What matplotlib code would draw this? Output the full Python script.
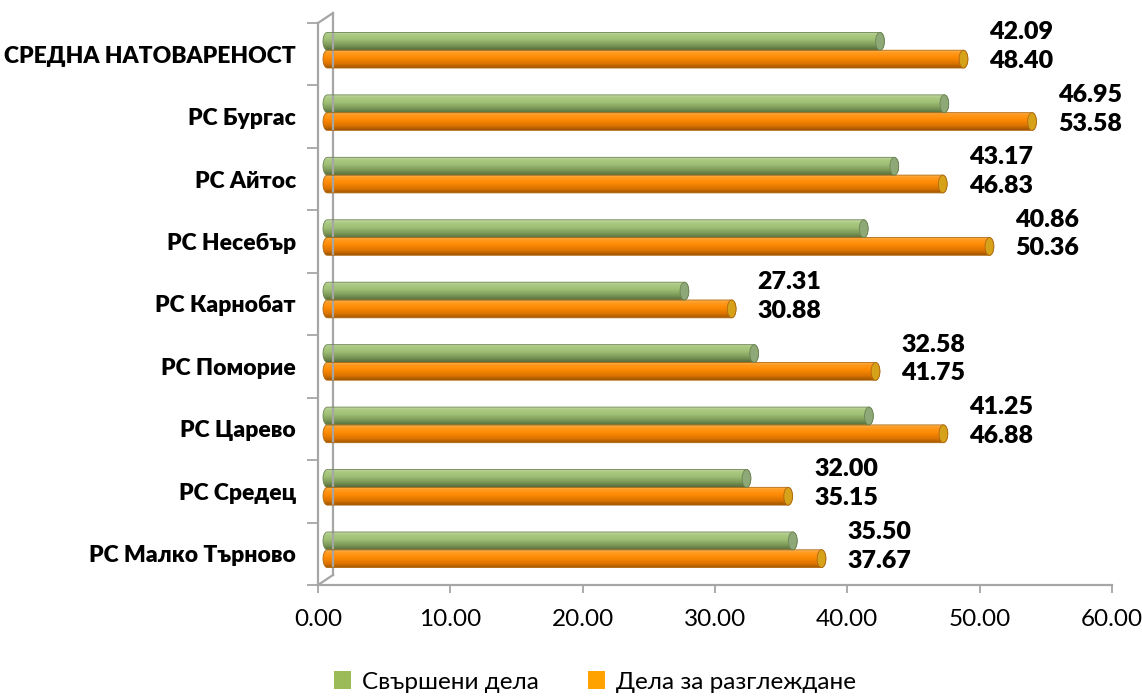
import numpy as np
import matplotlib
matplotlib.use('Agg')
import matplotlib.pyplot as plt
import matplotlib.transforms as mtransforms
from matplotlib.colors import LinearSegmentedColormap
from matplotlib.patches import Polygon, Ellipse, Patch

plt.rcParams['font.family'] = ['Lato', 'Open Sans', 'DejaVu Sans']

categories = ['СРЕДНА НАТОВАРЕНОСТ', 'РС Бургас', 'РС Айтос', 'РС Несебър', 'РС Карнобат',
              'РС Поморие', 'РС Царево', 'РС Средец', 'РС Малко Търново']
done = [42.09, 46.95, 43.17, 40.86, 27.31, 32.58, 41.25, 32.00, 35.50]
pending = [48.40, 53.58, 46.83, 50.36, 30.88, 41.75, 46.88, 35.15, 37.67]
series_names = ['Свършени дела', 'Дела за разглеждане']
xticks = [0, 10, 20, 30, 40, 50, 60]

green_cm = LinearSegmentedColormap.from_list('g', [(0, '#566b3c'), (0.25, '#7a9656'), (0.6, '#a0c076'),
                                                   (0.85, '#abca82'), (1, '#c4d9a8')])
orange_cm = LinearSegmentedColormap.from_list('o', [(0, '#9c5400'), (0.25, '#dc7400'), (0.6, '#ff8c05'),
                                                    (0.85, '#ff9a20'), (1, '#ffb250')])

fig = plt.figure(figsize=(11.42, 6.96), dpi=100)
ax = fig.add_axes([318 / 1142, 1 - 585 / 696, 794 / 1142, 562 / 696])
n = len(categories)
ax.set_xlim(0, 60)
ax.set_ylim(-0.5, n - 0.5)

# 3d depth shift of bars
bar_tr = ax.transData + mtransforms.ScaledTranslation(5 / 100, 4 / 100, fig.dpi_scale_trans)
grad = np.linspace(0, 1, 256).reshape(-1, 1)
h = 0.285
rx = 0.33


def cylinder(x1, yc, cmap, capcol, edgecol):
    t = np.linspace(np.pi / 2, 3 * np.pi / 2, 30)
    left = np.column_stack([rx + rx * np.cos(t), yc + h / 2 * np.sin(t)])
    t2 = np.linspace(-np.pi / 2, np.pi / 2, 30)
    right = np.column_stack([x1 + rx * np.cos(t2), yc + h / 2 * np.sin(t2)])
    poly = Polygon(np.vstack([left, right]), closed=True, transform=bar_tr,
                   facecolor='none', edgecolor=edgecol, lw=0.6, zorder=3)
    ax.add_patch(poly)
    im = ax.imshow(grad, extent=(0, x1 + rx, yc - h / 2, yc + h / 2), origin='lower',
                   cmap=cmap, aspect='auto', transform=bar_tr, zorder=2, interpolation='bilinear')
    im.set_clip_path(poly)
    ax.add_patch(Ellipse((x1, yc), 2 * rx, h, transform=bar_tr, facecolor=capcol,
                         edgecolor=edgecol, lw=0.6, zorder=4))


for i in range(n):
    y = n - 1 - i
    yg = y + h / 2
    yo = y - h / 2
    cylinder(done[i], yg, green_cm, '#8fa878', '#6d8453')
    cylinder(pending[i], yo, orange_cm, '#d6a21a', '#b06a10')
    ax.annotate(f'{done[i]:.2f}', xy=(pending[i], yg), xytext=(31, 13), textcoords='offset pixels',
                ha='left', va='center', fontsize=18, fontweight='heavy')
    ax.annotate(f'{pending[i]:.2f}', xy=(pending[i], yo), xytext=(31, 2), textcoords='offset pixels',
                ha='left', va='center', fontsize=18, fontweight='heavy')

ax.set_xlim(0, 60)
ax.set_ylim(-0.5, n - 0.5)
for s in ax.spines.values():
    s.set_visible(False)

gc = '#a6a6a6'
back = mtransforms.offset_copy(ax.transAxes, fig, x=15, y=10, units='dots')
ax.plot([0, 0], [0, 1], color=gc, lw=1.6, transform=ax.transAxes, clip_on=False)
ax.plot([0, 1], [0, 0], color=gc, lw=1.6, transform=ax.transAxes, clip_on=False)
ax.plot([0, 0], [0, 1], color=gc, lw=1.6, transform=back, clip_on=False)
for yy in [0, 1]:
    p0 = ax.transAxes.transform((0, yy))
    p1 = back.transform((0, yy))
    fig.add_artist(plt.Line2D([p0[0] / 1142, p1[0] / 1142], [p0[1] / 696, p1[1] / 696],
                              color=gc, lw=1.6))

ax.set_xticks(xticks)
ax.set_xticklabels([f'{v:.2f}' for v in xticks], fontsize=17.5)
ax.tick_params(axis='x', length=6, width=1.3, color=gc, pad=11)
ax.set_yticks(range(n))
ax.set_yticklabels(categories[::-1], fontsize=16.5, fontweight='heavy')
ax.set_yticks(np.arange(-0.5, n, 1), minor=True)
ax.tick_params(axis='y', which='major', length=0, pad=16)
ax.tick_params(axis='y', which='minor', length=8, width=1.3, color=gc)

handles = [Patch(facecolor='#9bbb59', edgecolor='none'), Patch(facecolor='#ffa200', edgecolor='none')]
fig.legend(handles, series_names, loc='center', bbox_to_anchor=(595 / 1142, 1 - 682 / 696), ncol=2,
           frameon=False, fontsize=17.5, handlelength=0.7, handleheight=0.7, columnspacing=2.0,
           handletextpad=0.45)

fig.savefig('out.png', dpi=100)
